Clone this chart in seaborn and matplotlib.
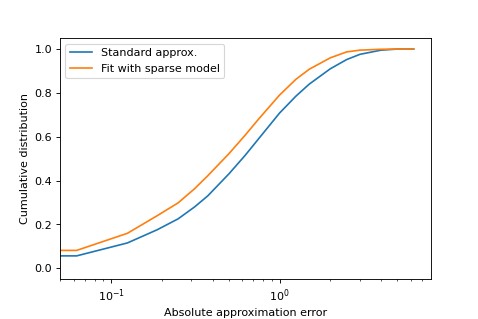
import pandas as pd
import matplotlib
matplotlib.use('Agg')
import matplotlib.pyplot as plt
import seaborn as sns

# Erro absoluto (grade de 1/16) e distribuicao acumulada
x_erro = [0, 0.0625, 0.125, 0.1875, 0.25, 0.3125, 0.375, 0.5, 0.625, 0.75,
          1.0, 1.25, 1.5, 2.0, 2.5, 3.0, 4.0, 5.0, 6.25]
y_standard = [0.0, 0.056, 0.115, 0.175, 0.225, 0.279, 0.330, 0.430, 0.515, 0.590,
              0.708, 0.785, 0.840, 0.910, 0.952, 0.976, 0.995, 1.0, 1.0]
y_sparse = [0.0, 0.081, 0.159, 0.239, 0.298, 0.362, 0.422, 0.522, 0.607, 0.680,
            0.790, 0.862, 0.908, 0.960, 0.987, 0.995, 0.999, 1.0, 1.0]

series_names = ['Standard approx.', 'Fit with sparse model']
colors = ['#1f77b4', '#ff7f0e']

df = pd.DataFrame({'erro': x_erro, series_names[0]: y_standard, series_names[1]: y_sparse})

fig, ax = plt.subplots(figsize=(5.98, 3.99))
fig.subplots_adjust(left=0.125, right=0.9, bottom=0.125, top=0.88)

for name, color in zip(series_names, colors):
    sns.lineplot(x='erro', y=name, data=df, color=color, label=name, ax=ax)

ax.set_xscale('log')
ax.autoscale_view()
ax.set_xlabel('Absolute approximation error')
ax.set_ylabel('Cumulative distribution')
ax.legend(loc='upper left')

plt.savefig('out.png', dpi=80)
